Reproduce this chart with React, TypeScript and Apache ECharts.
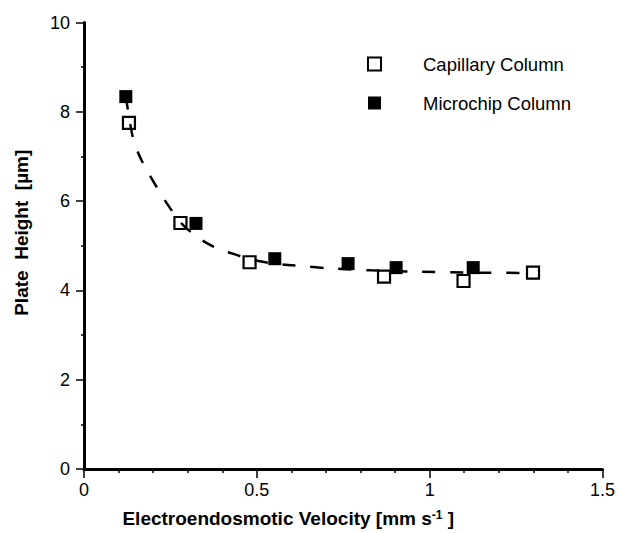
import React, { useEffect, useRef } from "react";
import * as echarts from "echarts";

// Measured points
const capillaryX = [0.13, 0.279, 0.479, 0.868, 1.098, 1.299];
const capillaryY = [7.75, 5.51, 4.63, 4.31, 4.21, 4.4];
const microchipX = [0.121, 0.324, 0.552, 0.764, 0.903, 1.126];
const microchipY = [8.34, 5.5, 4.71, 4.6, 4.51, 4.51];

// Dashed fitted curve
const fitX = [0.121, 0.13, 0.141, 0.16, 0.187, 0.233, 0.281, 0.32, 0.362, 0.4, 0.439, 0.48, 0.55, 0.638, 0.718, 0.83, 0.95, 1.1, 1.3];
const fitY = [8.34, 7.9, 7.44, 7.02, 6.62, 6.03, 5.51, 5.24, 5.03, 4.9, 4.8, 4.7, 4.6, 4.54, 4.49, 4.45, 4.42, 4.4, 4.39];

const xTicks = [0, 0.5, 1, 1.5];
const yTicks = [0, 2, 4, 6, 8, 10];

const seriesNames = ["Capillary Column", "Microchip Column"];

const FONT = "Liberation Sans, Arial, Helvetica, sans-serif";

export default function App() {
  const ref = useRef<HTMLDivElement | null>(null);

  useEffect(() => {
    if (!ref.current) return;
    const chart = echarts.init(ref.current, null, { renderer: "svg" });
    const pairs = (xs: number[], ys: number[]) => xs.map((x, i) => [x, ys[i]]);

    chart.setOption({
      animation: false,
      backgroundColor: "#ffffff",
      textStyle: { fontFamily: FONT, color: "#000" },
      grid: { left: 84, right: 12, top: 22.5, bottom: 63, containLabel: false },
      legend: {
        data: seriesNames,
        orient: "vertical",
        left: 362,
        top: 49,
        itemWidth: 13,
        itemHeight: 13,
        itemGap: 19,
        textStyle: { fontSize: 18.5, color: "#000", fontFamily: FONT, padding: [0, 0, 0, 37], lineHeight: 20 },
      },
      xAxis: {
        type: "value",
        min: xTicks[0],
        max: xTicks[xTicks.length - 1],
        interval: 0.5,
        name: "Electroendosmotic Velocity [mm s{sup|-1} ]",
        nameLocation: "middle",
        nameGap: 40,
        nameTextStyle: {
          fontSize: 19,
          fontWeight: "bold",
          color: "#000",
          fontFamily: FONT,
          padding: [0, 110, 0, 0],
          rich: {
            sup: { fontSize: 12, fontWeight: "bold", color: "#000", fontFamily: FONT, verticalAlign: "top", padding: [0, 0, 6, 0] },
          },
        },
        axisLine: { onZero: false, lineStyle: { color: "#000", width: 3 } },
        axisTick: { length: 9, lineStyle: { color: "#000", width: 1.5 } },
        minorTick: { show: true, splitNumber: 5, length: 4, lineStyle: { color: "#000", width: 1.5 } },
        axisLabel: { fontSize: 18, color: "#000", margin: 12, fontFamily: FONT },
        splitLine: { show: false },
      },
      yAxis: {
        type: "value",
        min: yTicks[0],
        max: yTicks[yTicks.length - 1],
        interval: 2,
        name: "Plate  Height  [µm]",
        nameLocation: "middle",
        nameGap: 53,
        nameTextStyle: {
          fontSize: 19,
          fontWeight: "bold",
          color: "#000",
          fontFamily: FONT,
          padding: [0, 0, 0, 26],
        },
        axisLine: { show: true, onZero: false, lineStyle: { color: "#000", width: 3 } },
        axisTick: { show: true, length: 8, lineStyle: { color: "#000", width: 1.5 } },
        minorTick: { show: true, splitNumber: 2, length: 3, lineStyle: { color: "#000", width: 1.5 } },
        axisLabel: { fontSize: 18, color: "#000", margin: 14, fontFamily: FONT },
        splitLine: { show: false },
      },
      series: [
        {
          name: "fit",
          type: "line",
          data: pairs(fitX, fitY),
          smooth: 0.3,
          showSymbol: false,
          symbol: "none",
          z: 2,
          lineStyle: { color: "#000", width: 2.5, type: [13, 15] },
          silent: true,
        },
        {
          name: seriesNames[0],
          type: "scatter",
          data: pairs(capillaryX, capillaryY),
          symbol: "rect",
          symbolSize: 12,
          z: 3,
          itemStyle: { color: "rgba(255,255,255,0)", borderColor: "#000", borderWidth: 2.2, opacity: 1 },
        },
        {
          name: seriesNames[1],
          type: "scatter",
          data: pairs(microchipX, microchipY),
          symbol: "rect",
          symbolSize: 13,
          z: 4,
          itemStyle: { color: "#000", borderColor: "#000", borderWidth: 0, opacity: 1 },
        },
      ],
    });

    return () => chart.dispose();
  }, []);

  return (
    <div
      ref={ref}
      style={{ position: "fixed", left: 0, top: 0, width: 618, height: 533, background: "#fff" }}
    />
  );
}
